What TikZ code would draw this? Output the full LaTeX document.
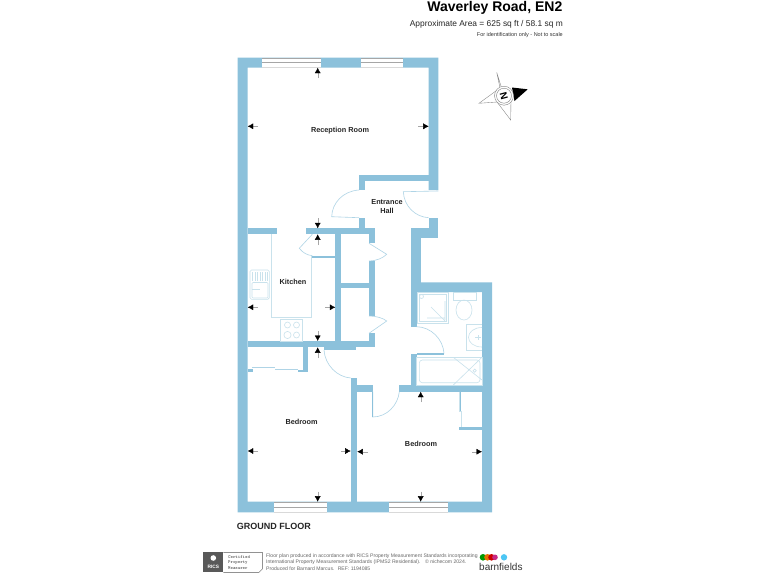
\documentclass[tikz,border=0pt]{standalone}
\usepackage{fontspec}
\setmainfont{Liberation Sans}
\usetikzlibrary{arrows.meta}
\definecolor{wallblue}{HTML}{8CC1DB}
\definecolor{fixblue}{HTML}{C9E2EC}
\begin{document}
\begin{tikzpicture}[x=1pt, y=-1pt,
  wall/.style = {fill=wallblue, draw=none},
  fix/.style = {draw=fixblue, line width=0.6pt},
  leaf/.style = {draw=wallblue!70, line width=0.6pt},
  winpane/.style = {fill=white, draw=none},
  winline/.style = {draw=gray!70, line width=0.6pt},
  dim/.style = {draw=gray!70, line width=0.4pt, -{Latex[black, length=5.5pt, width=6pt]}},
  room/.style = {font=\fontsize{7.3}{9}\selectfont\bfseries, text=black!85, align=center, inner sep=0pt},
  every node/.style = {inner sep=0pt}]
  \useasboundingbox (0,0) rectangle (768,576);
  \fill[white] (0,0) rectangle (768,576);
  \fill[wall] (237.7,57.7) -- (438.3,57.7) -- (438.3,190) -- (428.7,190) -- (428.7,67.7)
    -- (247.7,67.7) -- (247.7,501.7) -- (492,501.7) -- (492,282.3) -- (420.7,282.3) -- (420.7,292)
    -- (482,292) -- (482,501.7) -- (492,501.7) -- (492,512.3) -- (237.7,512.3) -- cycle;
  \foreach \xa/\ya/\xb/\yb in {
    359/175/428.7/181, 359/175/365/190, 359/217.7/365/228.3,
    247.7/228.3/276.7/234.3, 306.3/228.3/375/234.3,
    335.3/234.3/341.3/341, 341.3/283.3/368.7/288.3,
    368.7/234.3/375/243.3, 368.7/261/375/316, 368.7/333.3/375/347.3,
    311.7/255.7/335.3/257.7,
    247.7/341/375/347.3, 303.3/347.3/308.3/371.7,
    350.7/378/357.3/501.7, 357.3/385/372.7/391.7, 399.3/385/492/391.7,
    428.7/218/438.3/238, 410.7/228/438.3/238, 410.7/238/420.7/292, 410.7/292/416.7/326.7,
    410.7/354/416.7/385, 247.7/369/253/371.7, 298/369.5/303.3/371.7,
    458.7/391.7/460.7/411, 458.7/426.7/482/430}
    \fill[wall] (\xa,\ya) rectangle (\xb,\yb);
  \foreach \xa/\ya/\xb/\yb in {262/57.7/321.3/67.7, 361/57.7/402.7/67.7, 274/501.7/327/512.3, 389/501.7/448/512.3} {
    \fill[winpane] (\xa,\ya) rectangle (\xb,\yb);
    \draw[winline] (\xa,\ya+0.4) -- (\xb,\ya+0.4);
    \draw[winline] (\xa,\ya*0.5+\yb*0.5) -- (\xb,\ya*0.5+\yb*0.5);
    \draw[winline, gray!30] (\xa,\yb-0.4) -- (\xb,\yb-0.4);
  }
  \draw[leaf] (359,190) .. controls (343,191) and (332,203) .. (331.7,216.7) -- (359,217.7);
  \draw[leaf] (438.3,191) -- (403.3,191.7) .. controls (404,206) and (415,217) .. (428.7,217.7);
  \draw[leaf] (312.3,234.3) -- (299.3,248.3) .. controls (303,253) and (307,255) .. (312.3,255.7);
  \draw[leaf] (369,243.3) -- (386.7,254.3) .. controls (383,258) and (376,261) .. (369,261);
  \draw[leaf] (369,333.3) -- (386.7,321) .. controls (383,318) and (376,316) .. (369,316);
  \draw[leaf] (324,350) .. controls (325,365) and (337,377) .. (350.7,378);
  \fill[wall] (324,347.3) rectangle (356,349.5);
  \draw[leaf] (372.7,391.7) -- (372.7,417) .. controls (387,417) and (398,405) .. (399.3,391.7);
  \fill[wall] (372,391.7) rectangle (373.4,417);
  \draw[leaf] (416.7,326.7) .. controls (431,327) and (443,339) .. (444,353.3);
  \fill[wall] (416.7,353) rectangle (443.5,355);
  \draw[leaf] (252,367.5) -- (275,367.5) (275,369.5) -- (298,369.5);
  \draw[fix] (271.3,234.3) -- (271.3,317.3) -- (311.7,317.3) -- (311.7,255.7);
  \draw[fix, rounded corners=1.5pt] (250,270) rectangle (269.3,299.3);
  \draw[fix, rounded corners=1pt] (252,282.5) rectangle (268,298);
  \foreach \xa in {252.5,255,257.5,260,262.5,265,267}
    \draw[fix] (\xa,272) -- (\xa,280.5);
  \draw[fix] (252,289.5) -- (260,289.5);
  \draw[fix] (280.7,319.3) rectangle (302.3,341);
  \foreach \xa/\ya/\ra in {287.5/325/3, 296.5/325/3, 287.5/335/3.6, 296.5/335/3}
    \draw[fix] (\xa,\ya) circle (\ra);
  \draw[fix] (417.7,292.7) rectangle (448.3,323.3);
  \draw[fix] (419.5,294.5) rectangle (446.5,321.5);
  \draw[fix] (431,307) -- (445,321) (445,301) -- (445,320) (427,318) -- (445,318);
  \draw[fix] (421.5,296.5) circle (2);
  \draw[fix] (453,292.7) rectangle (476,300);
  \draw[fix] (464,310) ellipse (8 and 10);
  \draw[fix] (482,324.3) -- (466,324.3) -- (466,350) -- (482,350);
  \draw[fix] (482,327.5) .. controls (474,327.5) and (468.5,332) .. (468.5,337.3) .. controls (468.5,342.5) and (474,347) .. (482,347);
  \draw[fix] (475,337.3) -- (481,337.3) (478,335) -- (478,339.5);
  \draw[fix] (416.7,357.3) rectangle (482,385);
  \draw[fix, rounded corners=3pt] (419.3,360) rectangle (480,382.7);
  \draw[fix] (453.3,357.3) -- (482,380) (482,357.3) -- (453.3,385);
  \draw[fix] (474.7,370.7) circle (1.6);
  \draw[fix] (459,391.7) -- (459,411) -- (461.5,411) -- (461.5,426.7);
  \draw[dim] (317.7,78) -- (317.7,67.7);
  \draw[dim] (258,126.3) -- (247.7,126.3);
  \draw[dim] (418,126.3) -- (428.7,126.3);
  \draw[dim] (317.7,218.3) -- (317.7,228.3);
  \draw[dim] (317.7,245) -- (317.7,234.3);
  \draw[dim] (258,307.3) -- (247.7,307.3);
  \draw[dim] (325,307.3) -- (335.3,307.3);
  \draw[dim] (317.7,331) -- (317.7,341);
  \draw[dim] (317.7,358) -- (317.7,347.3);
  \draw[dim] (258,451) -- (247.7,451);
  \draw[dim] (341,451) -- (350.7,451);
  \draw[dim] (317.7,491.7) -- (317.7,501.7);
  \draw[dim] (368,451.7) -- (357.3,451.7);
  \draw[dim] (472,451.7) -- (482,451.7);
  \draw[dim] (420.7,402) -- (420.7,391.7);
  \draw[dim] (420.7,491.7) -- (420.7,501.7);
  \node[room] (reception) at (340,131) {Reception Room};
  \node[room] (hall) at (387,207) {Entrance\\Hall};
  \node[room] (kitchen) at (293,281.5) {Kitchen};
  \node[room] (bedroomone) at (301.6,422) {Bedroom};
  \node[room] (bedroomtwo) at (421,443.5) {Bedroom};
  \node[anchor=west, font=\fontsize{9}{10}\selectfont\bfseries, text=black!85] (floor) at (236.7,526) {GROUND FLOOR};
  \node[anchor=east, font=\fontsize{14}{16}\selectfont\bfseries] (title) at (562.5,8) {Waverley Road, EN2};
  \node[anchor=east, font=\fontsize{8.4}{10}\selectfont, text=black!85] (area) at (563,24.5) {Approximate Area = 625 sq ft / 58.1 sq m};
  \node[anchor=east, font=\fontsize{5.5}{6}\selectfont, text=black!80] (scale) at (563,35) {For identification only - Not to scale};
  \coordinate (compass) at (504,95.7);
  \draw[line width=0.35pt, gray] (compass) -- (496.7,72.3) -- (500,88) -- (479,103.3) -- (497,102) -- (510.7,120) -- (511,99) -- cycle;
  \fill[black] (512,87.5) -- (527.7,89.3) -- (514.5,101) -- (513,93) -- cycle;
  \fill[white] (compass) circle (9.5);
  \draw[line width=0.4pt, gray] (compass) circle (9.5);
  \draw[line width=0.4pt, gray] (compass) circle (7.5);
  \node[rotate=-75, font=\fontsize{10}{10}\selectfont\bfseries] (north) at (compass) {N};
  \fill[gray!70!black] (203.3,552.3) rectangle (223.3,572.3);
  \draw[gray!70!black, line width=0.4pt] (223.3,552.3) -- (262.3,552.3) -- (262.3,569) -- (259,572.3) -- (223.3,572.3);
  \node[text=white, font=\fontsize{4.8}{5}\selectfont\bfseries] (rics) at (213.3,567.3) {RICS};
  \fill[white] (213.3,558) circle (2.8);
  \node[anchor=west, align=left, font=\fontsize{4.6}{5.8}\selectfont\ttfamily\bfseries, text=black!70] (measurer) at (228,562.5) {Certified\\Property\\Measurer};
  \node[anchor=west, align=left, font=\fontsize{5.1}{6.5}\selectfont, text=black!60] (credits) at (266,562) {Floor plan produced in accordance with RICS Property Measurement Standards incorporating\\International Property Measurement Standards (IPMS2 Residential). \ \ © nichecom 2024.\\Produced for Barnard Marcus. \ REF: 1194085};
  \fill[green!60!black] (483,557.3) circle (3.3);
  \fill[orange!90!black] (487.5,557.3) circle (3.3);
  \fill[red!80!black] (491.5,557.3) circle (3.3);
  \fill[magenta!80!black] (495,557.3) circle (2.8);
  \fill[cyan!70] (504,557.3) circle (3.2);
  \node[anchor=west, font=\fontsize{10}{12}\selectfont, text=black!80] (brand) at (479,567) {barnfields};
\end{tikzpicture}
\end{document}
